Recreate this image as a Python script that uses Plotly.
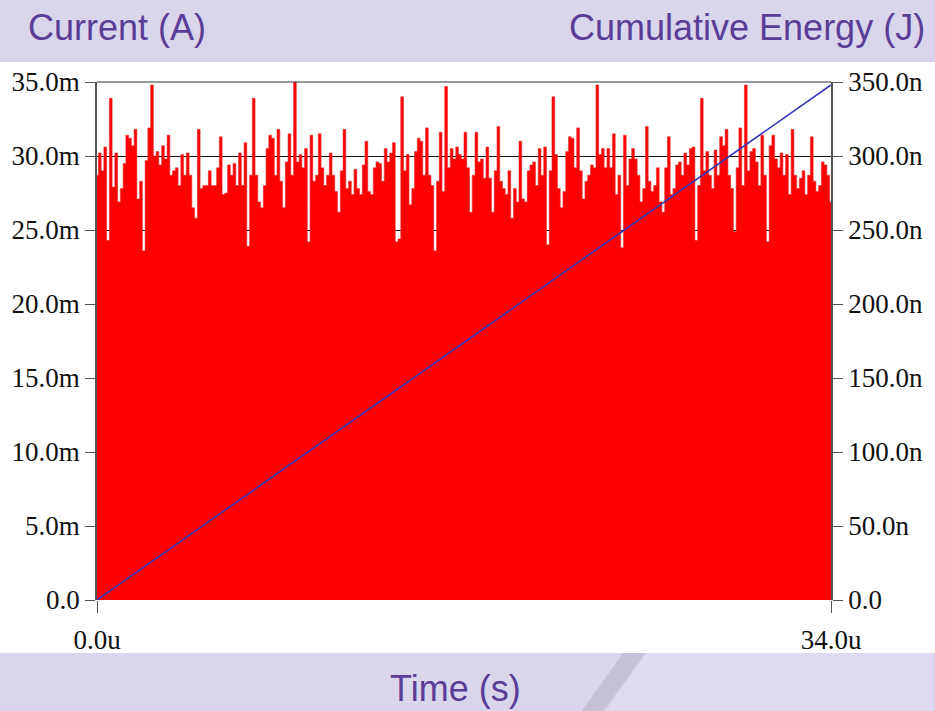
import numpy as np
import plotly.graph_objects as go

# Current samples (mA), read left to right in six segments
seg1 = [28.7, 30.2, 29.0, 30.6, 24.3, 33.9, 27.9, 30.2, 26.9, 27.8, 29.5, 31.4, 31.2, 30.7, 31.8,
        27.1, 28.3, 23.6, 29.7, 31.9, 34.8, 30.0, 30.3, 29.4, 30.7, 29.8, 31.4, 28.7, 29.0, 29.2,
        28.0, 30.1, 28.7, 30.2, 28.7, 26.5, 25.8, 31.8, 27.8, 28.0, 28.0, 29.0, 28.0]
seg2 = [28.0, 29.2, 31.3, 27.4, 27.5, 29.4, 28.7, 29.5, 28.0, 30.2, 28.0, 30.9, 23.9, 28.7, 33.9,
        28.7, 26.9, 26.5, 28.0, 30.5, 31.4, 31.2, 28.7, 31.8, 28.3, 26.5, 29.6, 31.5, 28.7, 35.0,
        29.6, 30.1, 29.2, 30.5, 24.2, 31.4, 28.3, 28.7, 31.5, 29.2, 28.0, 28.7, 30.2, 28.7]
seg3 = [27.6, 26.2, 29.0, 31.8, 27.8, 28.3, 27.4, 29.1, 27.8, 27.4, 29.4, 31.0, 27.6, 27.4, 29.2,
        29.6, 29.5, 28.3, 30.5, 29.6, 30.2, 30.9, 24.2, 24.4, 34.0, 29.0, 30.1, 26.7, 27.8, 30.3,
        31.2, 31.0, 28.7, 31.9, 28.7, 28.0, 23.6, 28.3, 31.6, 27.6, 34.7, 29.2, 30.5, 29.8, 30.6,
        30.1, 29.8, 31.6]
seg4 = [29.2, 26.2, 28.7, 31.6, 29.6, 29.8, 28.5, 30.6, 28.5, 26.2, 29.0, 32.0, 28.3, 27.8, 27.4,
        29.0, 25.8, 27.8, 26.9, 31.0, 27.1, 26.9, 29.0, 29.4, 29.6, 28.0, 30.5, 28.7, 30.6, 24.0,
        29.0, 34.0, 30.1, 27.8, 26.5, 27.6, 30.3, 31.3, 31.2, 29.2, 31.9, 29.0, 27.1, 28.3, 28.7,
        29.4]
seg5 = [29.2, 34.8, 30.1, 30.5, 29.2, 30.5, 29.2, 31.5, 27.4, 28.7, 23.8, 31.4, 28.0, 29.8, 30.5,
        29.8, 28.7, 26.9, 27.8, 32.0, 28.3, 27.6, 28.0, 29.2, 26.9, 26.2, 29.2, 31.3, 27.4, 27.8,
        29.4, 29.6, 28.7, 30.2, 29.4, 30.5, 30.6, 24.3, 28.0, 33.9, 29.0, 30.3, 28.7, 27.8, 30.4]
seg6 = [28.7, 31.3, 30.7, 31.8, 28.7, 27.8, 24.9, 29.2, 31.9, 28.0, 34.8, 29.0, 30.3, 30.5, 29.6,
        28.0, 31.4, 28.7, 24.2, 30.7, 31.4, 29.8, 29.2, 30.2, 28.7, 30.1, 27.4, 31.8, 28.7, 27.8,
        28.5, 29.0, 27.4, 28.7, 31.3, 28.3, 27.6, 28.0, 29.6, 29.4, 28.7, 26.9]
current_mA = seg1 + seg2 + seg3 + seg4 + seg5 + seg6
time_us = np.linspace(0, 34, len(current_mA))

energy_time_us = [0, 8.5, 17, 25.5, 34]
energy_nJ = [0, 87, 174, 261, 348]

left_tickvals = [0, 5, 10, 15, 20, 25, 30, 35]
left_ticktext = ["0.0", "5.0m", "10.0m", "15.0m", "20.0m", "25.0m", "30.0m", "35.0m"]
right_tickvals = [0, 50, 100, 150, 200, 250, 300, 350]
right_ticktext = ["0.0", "50.0n", "100.0n", "150.0n", "200.0n", "250.0n", "300.0n", "350.0n"]
x_tickvals = [0, 34]
x_ticktext = ["0.0u", "34.0u"]

BAND = "#d9d5ed"
PURPLE = "#5a3e96"
TICKFONT = dict(family="Liberation Serif, Times New Roman, serif", size=27, color="#111111")

fig = go.Figure()
fig.add_trace(go.Scatter(x=time_us, y=current_mA, mode="lines", fill="tozeroy",
                         fillcolor="#ff0000", line=dict(color="#e83030", width=0.6, shape="hvh"),
                         showlegend=False, hoverinfo="skip"))
fig.add_trace(go.Scatter(x=energy_time_us, y=energy_nJ, mode="lines", yaxis="y2",
                         line=dict(color="#3535b8", width=1.6), showlegend=False))

def px(xp):
    return (xp - 90) / 742.0

def py(yp):
    return (600 - yp) / 518.0

shapes = [
    dict(type="rect", xref="paper", yref="paper", x0=px(-30), x1=px(965), y0=py(653), y1=py(62),
         fillcolor="white", line=dict(width=0), layer="below"),
    dict(type="path", xref="paper", yref="paper",
         path=f"M {px(600)} {py(711)} L {px(935)} {py(711)} L {px(935)} {py(653)} L {px(643)} {py(653)} Z",
         fillcolor="#dedbf1", line=dict(width=0), layer="below"),
    dict(type="path", xref="paper", yref="paper",
         path=f"M {px(580)} {py(711)} L {px(603)} {py(711)} L {px(645)} {py(653)} L {px(622)} {py(653)} Z",
         fillcolor="rgba(150,150,165,0.3)", line=dict(width=0), layer="below"),
    dict(type="line", xref="paper", yref="paper", x0=0, x1=1, y0=1, y1=1,
         line=dict(color="#333333", width=1)),
]

annotations = [
    dict(text="Current (A)", xref="paper", yref="paper", x=px(18), y=py(28), xanchor="left",
         yanchor="middle", showarrow=False,
         font=dict(family="Liberation Sans, Arial, sans-serif", size=36, color=PURPLE)),
    dict(text="Cumulative Energy (J)", xref="paper", yref="paper", x=px(929), y=py(28),
         xanchor="right", yanchor="middle", showarrow=False,
         font=dict(family="Liberation Sans, Arial, sans-serif", size=36, color=PURPLE)),
    dict(text="Time (s)", xref="paper", yref="paper", x=px(452), y=py(688), xanchor="center",
         yanchor="middle", showarrow=False,
         font=dict(family="Liberation Sans, Arial, sans-serif", size=36, color=PURPLE)),
]

fig.update_layout(
    width=935, height=711,
    margin=dict(l=90, r=103, t=82, b=111, pad=0),
    paper_bgcolor=BAND, plot_bgcolor="white",
    showlegend=False,
    shapes=shapes, annotations=annotations,
    xaxis=dict(range=[0, 34], tickvals=x_tickvals, ticktext=x_ticktext, showgrid=False,
               zeroline=False, ticks="outside", ticklen=12, tickcolor="#555555",
               tickfont=TICKFONT, showline=False, ticklabelstandoff=4),
    yaxis=dict(range=[0, 35], tickvals=left_tickvals, ticktext=left_ticktext, showgrid=True,
               gridcolor="#111111", gridwidth=1, zeroline=False, ticks="outside", ticklen=10,
               tickcolor="#555555", tickfont=TICKFONT, showline=True, linecolor="#555555",
               linewidth=1.5),
    yaxis2=dict(range=[0, 350], tickvals=right_tickvals, ticktext=right_ticktext,
                overlaying="y", side="right", showgrid=False, zeroline=False, ticks="outside",
                ticklen=10, tickcolor="#555555", tickfont=TICKFONT, showline=True,
                linecolor="#555555", linewidth=1.5),
)

fig.write_html("out.html", config={"displayModeBar": False},
               post_script="document.body.style.margin='0';document.body.style.padding='0';"
                           "document.body.style.overflow='hidden';")
